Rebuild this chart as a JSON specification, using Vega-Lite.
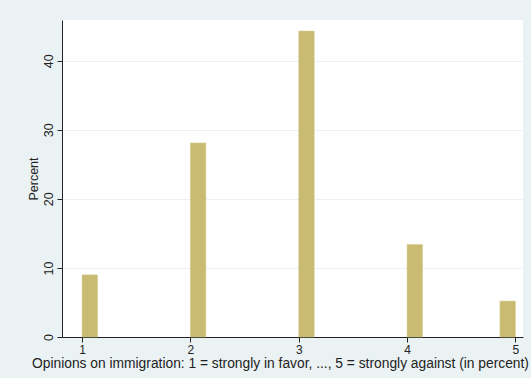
{
  "$schema": "https://vega.github.io/schema/vega-lite/v6.json",
  "width": 461,
  "height": 317,
  "autosize": "none",
  "padding": {"left": 62, "top": 20, "right": 8, "bottom": 41},
  "background": "#eaf2f3",
  "view": {"fill": "white", "stroke": null},
  "config": {"font": "Liberation Sans"},
  "data": {
    "values": [
      {"opinion": 1, "bin_start": 1.0, "bin_end": 1.142857, "percent": 9.0},
      {"opinion": 2, "bin_start": 2.0, "bin_end": 2.142857, "percent": 28.1},
      {"opinion": 3, "bin_start": 3.0, "bin_end": 3.142857, "percent": 44.3},
      {"opinion": 4, "bin_start": 4.0, "bin_end": 4.142857, "percent": 13.4},
      {"opinion": 5, "bin_start": 4.857143, "bin_end": 5.0, "percent": 5.2}
    ]
  },
  "mark": {"type": "bar", "color": "#c9bb72", "stroke": "#d6cb8c", "strokeWidth": 0.5},
  "encoding": {
    "x": {
      "field": "bin_start",
      "type": "quantitative",
      "scale": {"domain": [0.815, 5.07], "nice": false, "zero": false},
      "axis": {
        "values": [1, 2, 3, 4, 5],
        "title": "Opinions on immigration: 1 = strongly in favor, ..., 5 = strongly against (in percent)",
        "grid": false,
        "domainColor": "#222222",
        "tickColor": "#222222",
        "tickSize": 5,
        "labelFontSize": 12,
        "labelColor": "#222222",
        "labelPadding": 2,
        "titleFontSize": 13.8,
        "titleFontWeight": "normal",
        "titleColor": "#222222",
        "titlePadding": 1,
        "titleX": 218,
        "titleAlign": "center"
      }
    },
    "x2": {"field": "bin_end"},
    "y": {
      "field": "percent",
      "type": "quantitative",
      "scale": {"domain": [0, 45.9], "nice": false},
      "axis": {
        "values": [0, 10, 20, 30, 40],
        "title": "Percent",
        "grid": true,
        "gridColor": "#eaf2f3",
        "domainColor": "#222222",
        "tickColor": "#222222",
        "tickSize": 5,
        "labelAngle": -90,
        "labelAlign": "center",
        "labelBaseline": "bottom",
        "labelFontSize": 12.5,
        "labelColor": "#222222",
        "labelPadding": 2,
        "titleFontSize": 12.5,
        "titleFontWeight": "normal",
        "titleColor": "#222222",
        "titlePadding": 2
      }
    },
    "y2": {"datum": 0}
  }
}
